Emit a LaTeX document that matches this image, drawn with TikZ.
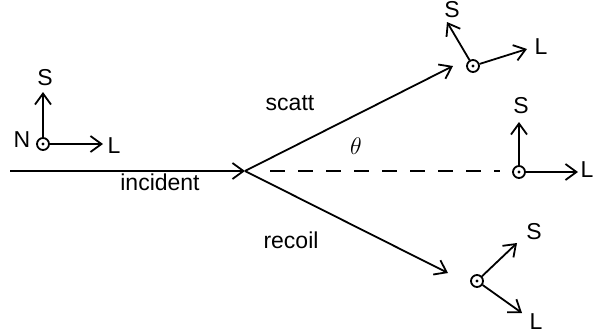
\documentclass[tikz,border=0pt]{standalone}
\usepackage{fontspec}
\setmainfont{Liberation Sans}
\usetikzlibrary{arrows.meta}
\begin{document}
\begin{tikzpicture}[x=0.5pt, y=-0.5pt, line width=0.9pt,
  font=\fontsize{11.5}{13}\selectfont,
  vec/.style={-{Straight Barb[length=5.5pt, width=8pt, line width=0.9pt]}},
  spin/.style={draw, circle, minimum size=6pt, inner sep=0pt,
    path picture={\fill (path picture bounding box.center) circle (0.8pt);}},
  lab/.style={inner sep=0pt}]
\useasboundingbox (0,0) rectangle (594,333);
% beam lines
\coordinate (in0) at (10,171);
\coordinate (v) at (245,171);
\coordinate (sc) at (453,66);
\coordinate (rc) at (448,273);
\coordinate (d1) at (270,171);
\coordinate (d2) at (500,171);
\draw[vec] (in0) -- (v);
\draw[vec] (v) -- (sc);
\draw[vec] (v) -- (rc);
\draw[dash pattern=on 7.5pt off 6.5pt] (d1) -- (d2);
\node[lab] (tinc) at (160,182) {incident};
\node[lab] (tsc) at (290,103) {scatt};
\node[lab] (tth) at (356,146) {\large$\theta$};
\node[lab] (trc) at (291,240) {recoil};
% spin frames: center / S tip / L tip / S label / L label
\foreach \f/\cx/\cy/\sx/\sy/\lx/\ly/\ax/\ay/\bx/\by in {
    1/43/144/43/92/103/144/45/78/114/146,
    2/473/66/447/22/527/49/452/10/541/47,
    3/519/172/519/122/578/172/521/106/587/170,
    4/477/281/517/243/522/313/534/232/536/322} {
  \node[spin] (c\f) at (\cx,\cy) {};
  \coordinate (s\f) at (\sx,\sy);
  \coordinate (l\f) at (\lx,\ly);
  \draw[vec] (c\f) -- (s\f);
  \draw[vec] (c\f) -- (l\f);
  \node[lab] (ts\f) at (\ax,\ay) {S};
  \node[lab] (tl\f) at (\bx,\by) {L};
}
\node[lab] (tn) at (22,140) {N};
\end{tikzpicture}
\end{document}
